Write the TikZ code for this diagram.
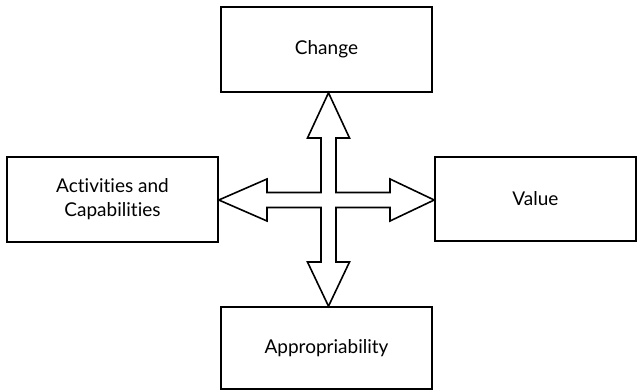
\documentclass[tikz,border=0pt]{standalone}
\usepackage{fontspec}
\setmainfont{Lato}[Ligatures={NoCommon}]
\usetikzlibrary{calc}
\tikzset{
  box/.style={draw, line width=1.6pt, inner sep=0pt, align=center,
    font=\fontsize{19}{24}\selectfont},
  crossarrow/.style={draw, line width=1.6pt, line join=miter, fill=white}
}
\begin{document}
\begin{tikzpicture}[x=1pt,y=-1pt]
  \useasboundingbox (0,0) rectangle (638,390);
  % four boxes around the central cross
  \node[box, minimum width=211pt, minimum height=85pt] (change) at (326.5,49.5) {Change};
  \node[box, minimum width=211pt, minimum height=85pt] (act) at (112.5,199.5) {Activities and\\Capabilities};
  \node[box, minimum width=201pt, minimum height=84pt] (value) at (535.5,199) {Value};
  \node[box, minimum width=211pt, minimum height=82pt] (approp) at (326.5,348) {Appropriability};
  % centre of the four-way arrow
  \coordinate (c) at (328.5,200);
  \draw[crossarrow]
    (c |- change.south) -- ($(c)+(21,-62)$) -- ($(c)+(7.5,-62)$) -- ($(c)+(7.5,-7.5)$)
    -- ($(c)+(61.5,-7.5)$) -- ($(c)+(61.5,-21)$) -- (c -| value.west)
    -- ($(c)+(61.5,21)$) -- ($(c)+(61.5,7.5)$) -- ($(c)+(7.5,7.5)$)
    -- ($(c)+(7.5,62)$) -- ($(c)+(21,62)$) -- (c |- approp.north)
    -- ($(c)+(-21,62)$) -- ($(c)+(-7.5,62)$) -- ($(c)+(-7.5,7.5)$)
    -- ($(c)+(-61.5,7.5)$) -- ($(c)+(-61.5,21)$) -- (c -| act.east)
    -- ($(c)+(-61.5,-21)$) -- ($(c)+(-61.5,-7.5)$) -- ($(c)+(-7.5,-7.5)$)
    -- ($(c)+(-7.5,-62)$) -- ($(c)+(-21,-62)$) -- cycle;
\end{tikzpicture}
\end{document}
